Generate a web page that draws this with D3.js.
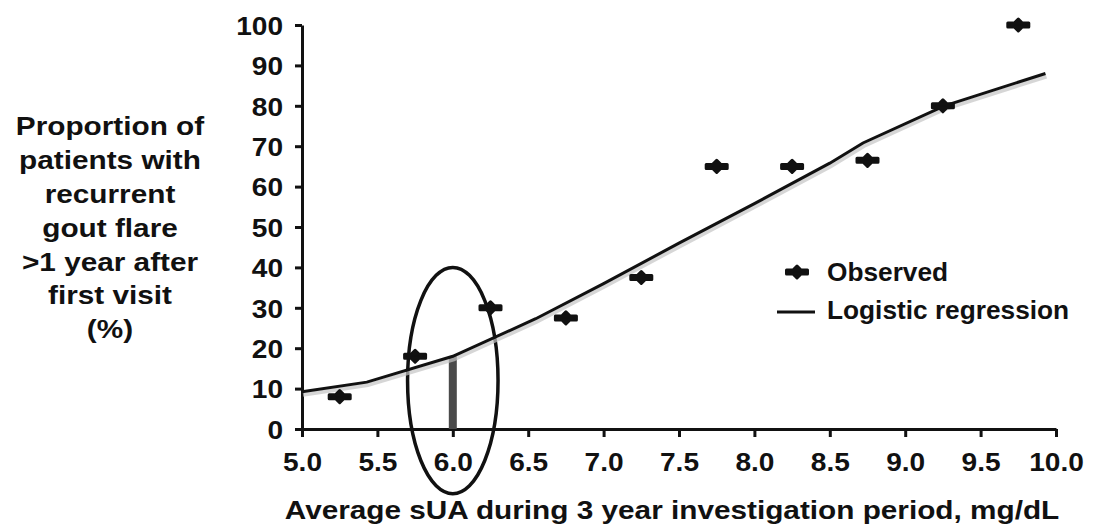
<!DOCTYPE html>
<html lang="en">
<head>
<meta charset="UTF-8">
<script src="https://d3js.org/d3.v7.min.js"></script>
<title>Recurrent gout flare vs average sUA</title>
<style>
  body { margin: 0; background: #fff; }
  svg { display: block; font-family: "Liberation Sans", Arial, sans-serif; font-weight: bold; }
</style>
</head>
<body>
<script>
// observed proportions (%) per sUA bin midpoint
var obsX = [5.25, 5.75, 6.25, 6.75, 7.25, 7.75, 8.25, 8.75, 9.25, 9.75]
var obsY = [8, 18, 30, 27.5, 37.5, 65, 65, 66.5, 80, 100]

// logistic regression curve
var fitX = [5.0, 5.43, 6.0, 6.55, 7.0, 7.5, 8.0, 8.5, 8.72, 9.26, 9.93]
var fitY = [9.2, 11.6, 18.0, 27.3, 36.0, 46.0, 55.8, 65.8, 70.8, 80.0, 88.0]

var xTicks = [5.0, 5.5, 6.0, 6.5, 7.0, 7.5, 8.0, 8.5, 9.0, 9.5, 10.0]
var yTicks = [0, 10, 20, 30, 40, 50, 60, 70, 80, 90, 100]

var yTitle = ["Proportion of", "patients with", "recurrent", "gout flare", ">1 year after", "first visit", "(%)"]
var xTitle = "Average sUA during 3 year investigation period, mg/dL"
var legendLabels = ["Observed", "Logistic regression"]

var width = 1093, height = 530
var tickStretch = 1.08 // text in the figure is a bit wider than normal
var titleStretch = 1.19

var svg = d3.select("body").append("svg")
    .attr("width", width)
    .attr("height", height)

var x = d3.scaleLinear().domain([5, 10]).range([302, 1056])
var y = d3.scaleLinear().domain([0, 100]).range([429, 25])

// axes
var yAxis = svg.append("g")
    .attr("transform", "translate(" + x(5) + ",0)")
    .call(d3.axisLeft(y).tickValues(yTicks).tickSize(7).tickSizeOuter(0).tickFormat(d3.format("d")))
var xAxis = svg.append("g")
    .attr("transform", "translate(0," + y(0) + ")")
    .call(d3.axisBottom(x).tickValues(xTicks).tickSize(8).tickSizeOuter(0).tickFormat(d3.format(".1f")))

svg.selectAll(".domain, .tick line")
    .attr("stroke", "#111")
    .attr("stroke-width", 3)

yAxis.selectAll(".tick text")
    .attr("font-size", 26)
    .attr("fill", "#111")
    .attr("x", -19 / tickStretch)
    .attr("dy", "0.36em")
    .attr("transform", "scale(" + tickStretch + ",1)")
xAxis.selectAll(".tick text")
    .attr("font-size", 26)
    .attr("fill", "#111")
    .attr("y", 42)
    .attr("dy", null)
    .attr("transform", "scale(" + tickStretch + ",1)")
svg.selectAll(".tick text").attr("font-family", null)

// ellipse around 6.0 and the grey bar
svg.append("ellipse")
    .attr("cx", x(6))
    .attr("cy", y(12))
    .attr("rx", x(6.3) - x(6))
    .attr("ry", y(-16) - y(12))
    .attr("fill", "none")
    .attr("stroke", "#111")
    .attr("stroke-width", 3.5)

var fitAt6 = fitY[fitX.indexOf(6.0)]
svg.append("rect")
    .attr("x", x(6) - 4)
    .attr("y", y(fitAt6))
    .attr("width", 8)
    .attr("height", y(0) - y(fitAt6))
    .attr("fill", "#4a4a4a")

// regression line with a soft shadow
var line = d3.line()
    .x(function (d, i) { return x(fitX[i]) })
    .y(function (d, i) { return y(fitY[i]) })

svg.append("path")
    .datum(fitY)
    .attr("d", line)
    .attr("transform", "translate(1,3)")
    .attr("fill", "none")
    .attr("stroke", "#c4c4c4")
    .attr("stroke-width", 4)
    .attr("opacity", 0.7)
svg.append("path")
    .datum(fitY)
    .attr("d", line)
    .attr("fill", "none")
    .attr("stroke", "#111")
    .attr("stroke-width", 3)

// observed markers: rounded diamond with small side whiskers
var marker = "M-10.5,-2H10.5V2H-10.5Z M0,-6L6,0L0,6L-6,0Z"
function drawMarker(sel) {
    sel.attr("d", marker)
        .attr("fill", "#111")
        .attr("stroke", "#111")
        .attr("stroke-width", 3)
        .attr("stroke-linejoin", "round")
}
svg.selectAll(".obs")
    .data(obsY)
    .enter()
    .append("path")
    .attr("class", "obs")
    .attr("transform", function (d, i) { return "translate(" + x(obsX[i]) + "," + y(d) + ")" })
    .call(drawMarker)

// legend
var legend = svg.append("g")
legend.append("path")
    .attr("transform", "translate(797,272)")
    .call(drawMarker)
legend.append("line")
    .attr("x1", 777).attr("x2", 815)
    .attr("y1", 312).attr("y2", 312)
    .attr("stroke", "#111")
    .attr("stroke-width", 3)
legend.selectAll("text")
    .data(legendLabels)
    .enter()
    .append("text")
    .attr("transform", function (d, i) { return "translate(827," + (280.5 + i * 38.5) + ") scale(1.05,1)" })
    .attr("font-size", 25)
    .attr("fill", "#111")
    .text(function (d) { return d })

// y title
var yt = svg.append("g").attr("transform", "translate(110,0) scale(" + titleStretch + ",1)")
yt.selectAll("text")
    .data(yTitle)
    .enter()
    .append("text")
    .attr("x", 0)
    .attr("y", function (d, i) { return 135.5 + i * 33.8 })
    .attr("text-anchor", "middle")
    .attr("font-size", 25)
    .attr("fill", "#111")
    .text(function (d) { return d })

// x title
svg.append("text")
    .attr("transform", "translate(672,519) scale(" + titleStretch + ",1)")
    .attr("text-anchor", "middle")
    .attr("font-size", 25)
    .attr("fill", "#111")
    .text(xTitle)
</script>
</body>
</html>
